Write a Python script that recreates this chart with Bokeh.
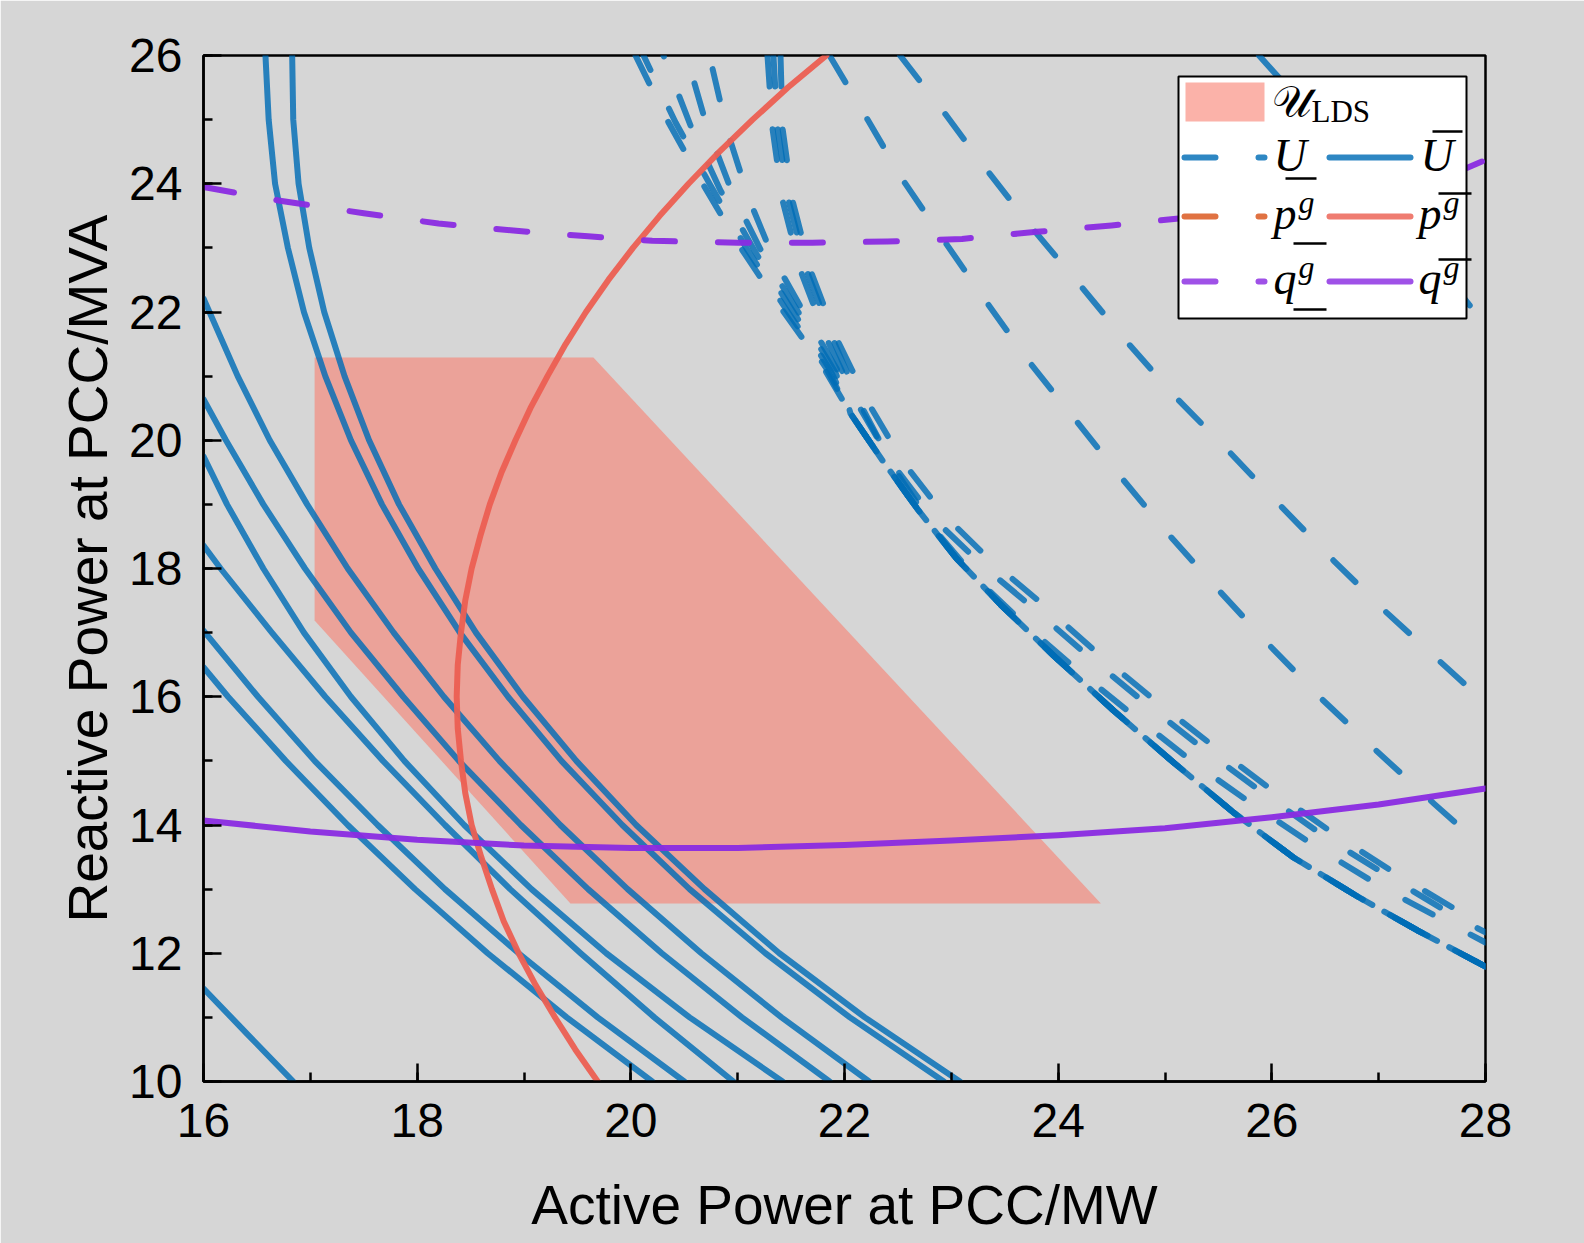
from bokeh.plotting import figure
from bokeh.models import Range1d, SingleIntervalTicker
from bokeh.embed import file_html
from bokeh.resources import INLINE
from bokeh.core.properties import value

# ---------------- data ----------------
X_RANGE = (16, 28)
Y_RANGE = (10, 26)
X_LABEL = "Active Power at PCC/MW"
Y_LABEL = "Reactive Power at PCC/MVA"

# feasible region U_LDS
lds_x = [17.04, 19.65, 24.40, 19.435, 17.04]
lds_y = [21.29, 21.29, 12.776, 12.776, 17.19]

# U upper bounds (solid blue)
ubarA_y = [26, 25, 24, 23, 22, 21, 20, 19, 18, 17, 16, 15, 14, 13, 12, 11, 10]
ubarA_x = [16.58, 16.61, 16.67, 16.79, 16.94, 17.14, 17.38, 17.67, 18.01, 18.40, 18.85, 19.35, 19.92, 20.55, 21.26, 22.05, 22.93]
ubarB_y = [26, 25, 24, 23, 22, 21, 20, 19, 18, 17, 16, 15, 14, 13, 12, 11, 10]
ubarB_x = [16.83, 16.84, 16.89, 16.99, 17.13, 17.32, 17.55, 17.83, 18.17, 18.55, 18.99, 19.49, 20.05, 20.69, 21.39, 22.19, 23.08]
ubar1_y = [22.21, 21, 20, 19, 18, 17, 16, 15, 14, 13, 12, 11, 10]
ubar1_x = [16.0, 16.32, 16.62, 16.97, 17.35, 17.78, 18.25, 18.77, 19.34, 19.97, 20.66, 21.41, 22.23]
ubar2_y = [20.64, 20, 19, 18, 17, 16, 15, 14, 13, 12, 11, 10]
ubar2_x = [16.0, 16.21, 16.56, 16.95, 17.38, 17.87, 18.39, 18.97, 19.60, 20.29, 21.04, 21.86]
ubar3_y = [19.75, 19, 18, 17, 16, 15, 14, 13, 12, 11, 10]
ubar3_x = [16.0, 16.22, 16.56, 16.94, 17.38, 17.88, 18.44, 19.07, 19.77, 20.55, 21.42]
ubar4_y = [18.36, 18, 17, 16, 15, 14, 13, 12, 11, 10]
ubar4_x = [16.0, 16.16, 16.64, 17.14, 17.68, 18.26, 18.87, 19.53, 20.22, 20.96]
ubar5_y = [17.03, 16, 15, 14, 13, 12, 11, 10]
ubar5_x = [16.0, 16.51, 17.04, 17.63, 18.26, 18.95, 19.69, 20.50]
ubar6_y = [16.46, 16, 15, 14, 13, 12, 11, 10]
ubar6_x = [16.0, 16.23, 16.77, 17.35, 17.98, 18.66, 19.40, 20.20]
ubar7_y = [11.45, 10.74, 10.0]
ubar7_x = [16.0, 16.41, 16.84]

# U lower bounds (dashed blue): main band, shared lower part
band_x = [22.056, 22.356, 22.693, 23.048, 23.460, 23.956, 24.518, 25.080, 25.641, 26.203, 26.802, 27.364, 28.0]
band_y = [20.417, 19.684, 18.905, 18.156, 17.439, 16.643, 15.786, 14.975, 14.195, 13.493, 12.885, 12.355, 11.793]
uund1_x = [20.044, 20.353, 20.671, 21.027, 21.401, 21.803]
uund1_y = [26.0, 24.955, 24.004, 23.006, 22.070, 21.135]
uund2_x = [20.119, 20.419, 20.746, 21.083, 21.448, 21.831]
uund2_y = [26.0, 24.955, 23.973, 22.990, 22.055, 21.119]
uund3_x = [20.306, 20.559, 20.839, 21.167, 21.513, 21.869]
uund3_y = [26.0, 24.908, 23.895, 22.928, 22.023, 21.088]
uund4_x = [20.521, 20.709, 20.952, 21.242, 21.570, 21.916]
uund4_y = [26.0, 24.908, 23.848, 22.881, 21.992, 21.057]
uund5_x = [20.736, 20.895, 21.101, 21.335, 21.635, 21.963]
uund5_y = [26.0, 24.862, 23.786, 22.834, 21.945, 21.010]
# U lower bounds slightly above the band
uund6_x = [21.279, 21.326, 21.420, 21.588, 21.832, 22.131, 22.459, 22.852, 23.292, 23.760, 24.275, 24.818, 25.379, 25.950, 26.521, 27.111, 27.700, 28.0]
uund6_y = [26.0, 24.862, 23.739, 22.647, 21.587, 20.542, 19.606, 18.749, 18.047, 17.392, 16.643, 15.895, 15.162, 14.460, 13.790, 13.181, 12.589, 12.324]
uund7_x = [21.401, 21.420, 21.513, 21.682, 21.925, 22.225, 22.552, 22.936, 23.367, 23.835, 24.340, 24.883, 25.445, 26.006, 26.577, 27.158, 27.738, 28.0]
uund7_y = [26.0, 24.862, 23.739, 22.647, 21.587, 20.573, 19.653, 18.827, 18.125, 17.470, 16.721, 15.973, 15.240, 14.538, 13.867, 13.244, 12.667, 12.417]
uund8_x = [21.335, 21.373, 21.476, 21.645, 21.888, 22.169, 22.477, 22.833, 23.226, 23.666, 24.162, 24.705, 25.267, 25.847, 26.437, 27.036, 27.644, 28.0]
uund8_y = [26.0, 24.862, 23.739, 22.647, 21.587, 20.495, 19.528, 18.624, 17.860, 17.158, 16.441, 15.708, 14.975, 14.289, 13.634, 13.025, 12.480, 12.168]
# separate U lower bounds on the right
uundR1_x = [21.86, 22.22, 22.55, 22.95, 23.34, 23.74, 24.17, 24.6, 25.05, 25.52, 25.99, 26.47, 26.99, 27.52, 28.0]
uundR1_y = [26.0, 24.99, 24.05, 23.07, 22.13, 21.2, 20.3, 19.4, 18.5, 17.63, 16.78, 15.96, 15.14, 14.33, 13.62]
uundR2_x = [22.52, 22.92, 23.32, 23.76, 24.21, 24.65, 25.1, 25.59, 26.08, 26.58, 27.07, 27.58, 28.0]
uundR2_y = [26.0, 25.14, 24.24, 23.3, 22.41, 21.52, 20.67, 19.84, 18.98, 18.12, 17.32, 16.54, 15.9]
uundR3_x = [25.88, 26.5, 27.2, 27.82, 28.0]
uundR3_y = [26.0, 24.85, 23.5, 22.17, 21.8]

# p^g upper bound (solid red)
pbar_y = [10, 10.5, 11, 11.5, 12, 12.5, 13, 13.5, 14, 14.5, 15, 15.5, 16, 16.5, 17, 17.5, 18,
          18.5, 19, 19.5, 20, 20.5, 21, 21.5, 22, 22.5, 23, 23.5, 24, 24.5, 25, 25.5, 26]
pbar_x = [19.69, 19.48, 19.29, 19.11, 18.95, 18.81, 18.70, 18.60, 18.51, 18.45, 18.41, 18.38, 18.37,
          18.38, 18.41, 18.45, 18.51, 18.59, 18.68, 18.79, 18.92, 19.06, 19.22, 19.39, 19.58, 19.79,
          20.02, 20.27, 20.54, 20.83, 21.14, 21.47, 21.83]

# q^g bounds (purple)
qbar_x = [16.0, 17.0, 18.0, 19.0, 20.0, 21.0, 22.0, 23.0, 24.0, 25.0, 26.0, 27.0, 28.0]
qbar_y = [14.07, 13.9, 13.77, 13.68, 13.64, 13.64, 13.69, 13.76, 13.84, 13.95, 14.12, 14.32, 14.57]
qund_x = [16.0, 16.7, 17.5, 18.2, 18.9, 19.6, 20.2, 21.0, 21.7, 22.4, 23.1, 23.8, 24.5, 25.2, 26.0, 27.0, 27.83, 28.0]
qund_y = [23.95, 23.74, 23.54, 23.38, 23.27, 23.18, 23.11, 23.08, 23.08, 23.1, 23.14, 23.25, 23.35, 23.47, 23.65, 23.92, 24.25, 24.37]

# ---------------- styles ----------------
BG = "#D6D6D6"
BLUE = "#006DB6"
RED = "#EC5F52"
ORANGE = "#D95319"
PURPLE = "#8A2BE2"
PINK = "#F87F70"
DASH = "31 43"
LW = 6

p = figure(frame_width=1282, frame_height=1026,
           min_border_left=203, min_border_right=99, min_border_top=55, min_border_bottom=162,
           x_range=Range1d(*X_RANGE), y_range=Range1d(*Y_RANGE),
           output_backend="svg", toolbar_location=None)
p.background_fill_color = BG
p.border_fill_color = BG
p.outline_line_color = "black"
p.outline_line_width = 2.5
p.grid.visible = False

for ax in (p.xaxis[0], p.yaxis[0]):
    ax.axis_line_width = 2.5
    ax.major_tick_line_width = 2.5
    ax.minor_tick_line_width = 2.5
    ax.major_tick_in = 18
    ax.major_tick_out = 0
    ax.minor_tick_in = 9
    ax.minor_tick_out = 0
    ax.major_label_text_font = "Liberation Sans"
    ax.major_label_text_font_size = "48px"
    ax.major_label_text_color = "black"
    ax.axis_label_text_font = "Liberation Sans"
    ax.axis_label_text_font_size = "55px"
    ax.axis_label_text_font_style = "normal"
    ax.axis_label_text_color = "black"
    ax.ticker = SingleIntervalTicker(interval=2, num_minor_ticks=2)

p.xaxis.axis_label = X_LABEL
p.yaxis.axis_label = Y_LABEL
p.xaxis.major_label_standoff = 22
p.yaxis.major_label_standoff = 21
p.xaxis.axis_label_standoff = 34
p.yaxis.axis_label_standoff = 7

# region
p.patch(lds_x, lds_y, fill_color=PINK, fill_alpha=0.6, line_alpha=0)

common = dict(line_width=LW, line_cap="round", line_join="round")

for xs, ys in [(ubarA_x, ubarA_y), (ubarB_x, ubarB_y), (ubar1_x, ubar1_y), (ubar2_x, ubar2_y),
               (ubar3_x, ubar3_y), (ubar4_x, ubar4_y), (ubar5_x, ubar5_y), (ubar6_x, ubar6_y),
               (ubar7_x, ubar7_y)]:
    p.line(xs, ys, line_color=BLUE, line_alpha=0.82, **common)

band_offsets = [0, 15, 30, 45, 60]
for (xs, ys), off in zip([(uund1_x, uund1_y), (uund2_x, uund2_y), (uund3_x, uund3_y),
                          (uund4_x, uund4_y), (uund5_x, uund5_y)], band_offsets):
    p.line(xs + band_x, ys + band_y, line_color=BLUE, line_alpha=0.82, line_dash=DASH,
           line_dash_offset=off, **common)
for xs, ys in [(uund6_x, uund6_y), (uund7_x, uund7_y), (uund8_x, uund8_y),
               (uundR1_x, uundR1_y), (uundR2_x, uundR2_y), (uundR3_x, uundR3_y)]:
    p.line(xs, ys, line_color=BLUE, line_alpha=0.82, line_dash=DASH, **common)

p.line(pbar_x, pbar_y, line_color=RED, line_alpha=0.95, **common)
p.line(qbar_x, qbar_y, line_color=PURPLE, line_alpha=0.95, **common)
p.line(qund_x, qund_y, line_color=PURPLE, line_alpha=0.95, line_dash=DASH, **common)

# ---------------- legend (drawn by hand, positions in screen pixels) ----------------
def lx(px):
    return X_RANGE[0] + (px - 203) * (X_RANGE[1] - X_RANGE[0]) / 1282

def ly(py):
    return Y_RANGE[1] - (py - 55) * (Y_RANGE[1] - Y_RANGE[0]) / 1026

p.quad(left=[lx(1178)], right=[lx(1466)], top=[ly(76)], bottom=[ly(318)],
       fill_color="white", line_color="black", line_width=2)
p.quad(left=[lx(1185)], right=[lx(1264)], top=[ly(82)], bottom=[ly(121)],
       fill_color=PINK, fill_alpha=0.6, line_alpha=0)

rows = [(157, BLUE, BLUE), (216, ORANGE, RED), (281, PURPLE, PURPLE)]
for yy, c_dash, c_solid in rows:
    p.line([lx(1184), lx(1264)], [ly(yy), ly(yy)], line_color=c_dash, line_alpha=0.82,
           line_dash=DASH, **common)
    p.line([lx(1329), lx(1410)], [ly(yy), ly(yy)], line_color=c_solid, line_alpha=0.82, **common)

serif = value("Liberation Serif")
def txt(px, py, s, size, style="italic", font=serif):
    py_adj = py - 0.33 * size
    p.text(x=[lx(px)], y=[ly(py_adj)], text=[s], text_font=font, text_font_size="%dpx" % size,
           text_font_style=style, text_baseline="alphabetic", text_align="left", text_color="black")

def bar(x0, x1, py):
    p.line([lx(x0), lx(x1)], [ly(py), ly(py)], line_color="black", line_width=2.5)

txt(1271, 116, "\U0001D4B0", 44, style="normal", font=value("DejaVu Serif"))
txt(1311, 121, "LDS", 31, style="normal")
txt(1273, 170, "U", 46)
bar(1285, 1316, 178)
txt(1420, 170, "U", 46)
bar(1432, 1462, 131)
txt(1273, 228, "p", 46)
txt(1298, 212, "g", 32)
bar(1293, 1326, 243)
txt(1418, 228, "p", 46)
txt(1443, 212, "g", 32)
bar(1438, 1471, 193)
txt(1273, 293, "q", 46)
txt(1298, 277, "g", 32)
bar(1293, 1326, 309)
txt(1418, 293, "q", 46)
txt(1443, 277, "g", 32)
bar(1438, 1471, 259)

html = file_html(p, INLINE, title="chart")
html = html.replace("<body>", '<body style="margin:0;overflow:hidden;background:%s">' % BG, 1)
open("out.html", "w").write(html)
